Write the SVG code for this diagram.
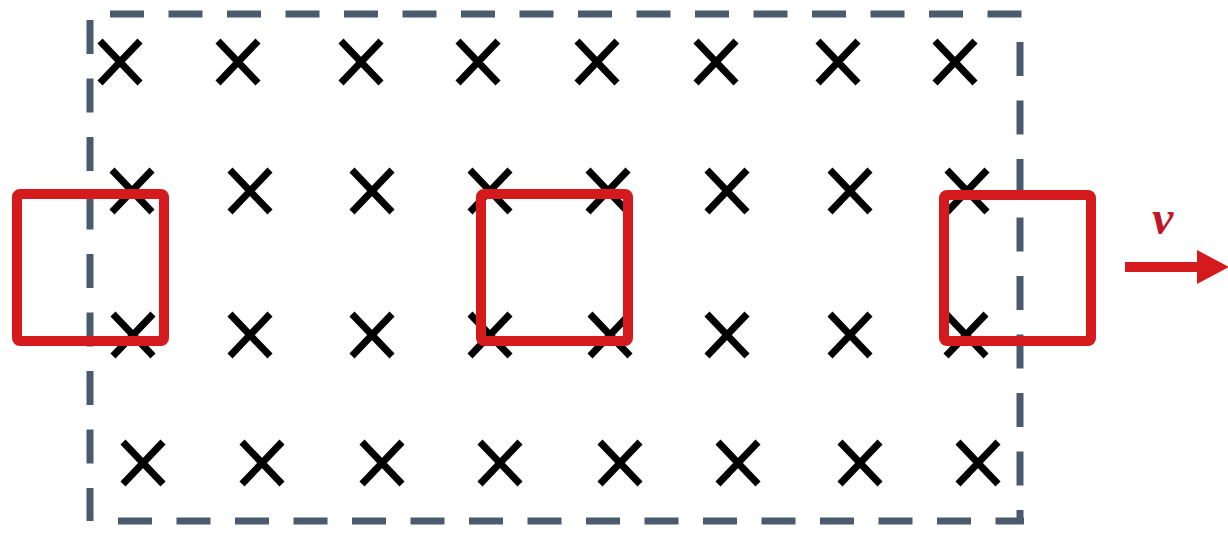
<svg xmlns="http://www.w3.org/2000/svg" xmlns:xlink="http://www.w3.org/1999/xlink" width="1228" height="533" viewBox="0 0 1228 533">
<style>
.field{fill:none;stroke:#4a5b6e;stroke-width:7;stroke-dasharray:34 24.5}
.x{fill:none;stroke:#000;stroke-width:7}
.loop{fill:none;stroke:#d41a1c;stroke-width:10;stroke-linejoin:round}
.vel{stroke:#d41a1c;stroke-width:10}
.lbl{font-family:"Liberation Serif",serif;font-style:italic;font-weight:bold;font-size:48px;fill:#c0182a}
</style>
<defs>
<g id="cross"><path d="M-20,-21 L20,21 M20,-21 L-20,21"/></g>
<marker id="ah" markerUnits="userSpaceOnUse" markerWidth="32" markerHeight="34" refX="0" refY="17" orient="auto"><path d="M0,0 L32,17 L0,34 Z" fill="#d41a1c"/></marker>
</defs>
<rect width="1228" height="533" fill="#fff"/>
<g id="field-boundary">
<line class="field" x1="110" y1="14" x2="1024" y2="14"/>
<line class="field" x1="90" y1="20" x2="90" y2="521"/>
<line class="field" x1="118" y1="521" x2="1024" y2="521"/>
<line class="field" x1="1020" y1="42" x2="1020" y2="521"/>
</g>
<g id="magnetic-field" class="x">
<use xlink:href="#cross" x="120" y="62"/><use xlink:href="#cross" x="238" y="62"/><use xlink:href="#cross" x="361" y="62"/><use xlink:href="#cross" x="478" y="62"/><use xlink:href="#cross" x="597" y="62"/><use xlink:href="#cross" x="716" y="62"/><use xlink:href="#cross" x="838" y="62"/><use xlink:href="#cross" x="955" y="62"/>
<use xlink:href="#cross" x="132" y="191"/><use xlink:href="#cross" x="250" y="191"/><use xlink:href="#cross" x="372" y="191"/><use xlink:href="#cross" x="490" y="191"/><use xlink:href="#cross" x="608" y="191"/><use xlink:href="#cross" x="727" y="191"/><use xlink:href="#cross" x="850" y="191"/><use xlink:href="#cross" x="967" y="191"/>
<use xlink:href="#cross" x="133" y="335"/><use xlink:href="#cross" x="250" y="335"/><use xlink:href="#cross" x="372" y="335"/><use xlink:href="#cross" x="490" y="335"/><use xlink:href="#cross" x="610" y="335"/><use xlink:href="#cross" x="727" y="335"/><use xlink:href="#cross" x="850" y="335"/><use xlink:href="#cross" x="966" y="335"/>
<use xlink:href="#cross" x="143" y="463"/><use xlink:href="#cross" x="262" y="463"/><use xlink:href="#cross" x="382" y="463"/><use xlink:href="#cross" x="500" y="463"/><use xlink:href="#cross" x="620" y="463"/><use xlink:href="#cross" x="738" y="463"/><use xlink:href="#cross" x="860" y="463"/><use xlink:href="#cross" x="978" y="463"/>
</g>
<g id="loop-left"><rect class="loop" x="17" y="194" width="147" height="147" rx="3"/></g>
<g id="loop-middle"><rect class="loop" x="481" y="194" width="147" height="147" rx="3"/></g>
<g id="loop-right"><rect class="loop" x="944" y="195" width="147" height="146" rx="3"/></g>
<g id="connectors">
<line class="vel" x1="1125" y1="267" x2="1197" y2="267" marker-end="url(#ah)"/>
</g>
<g id="label-v"><text class="lbl" x="1152" y="234">v</text></g>
</svg>
